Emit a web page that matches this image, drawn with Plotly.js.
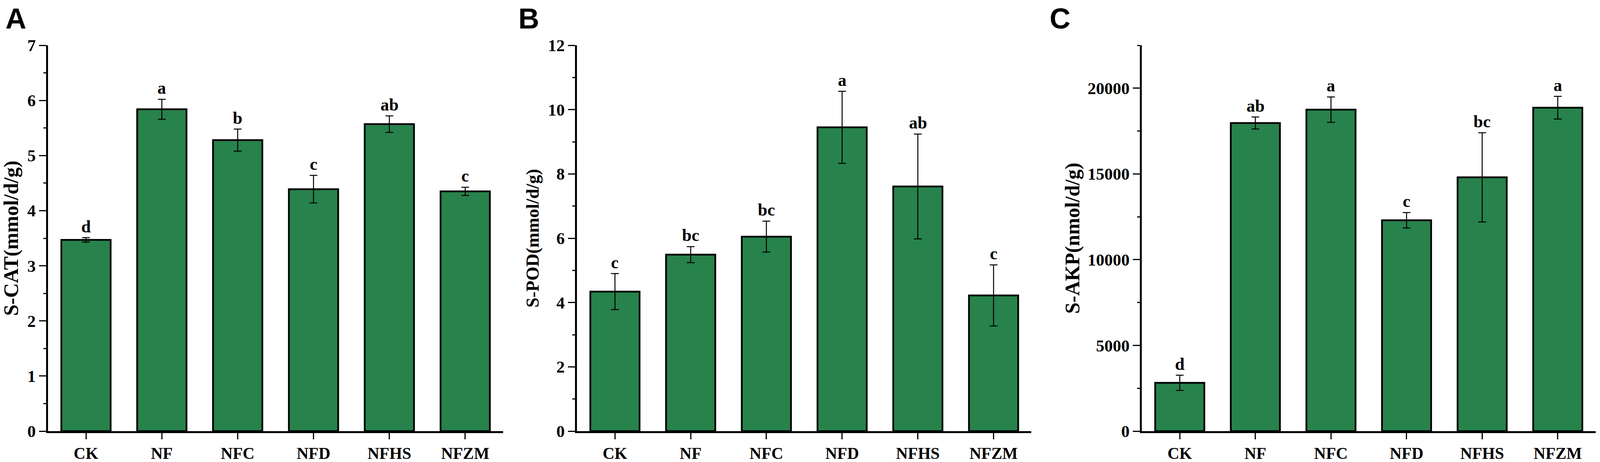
<!DOCTYPE html>
<html>
<head>
<meta charset="utf-8">
<script src="https://cdn.plot.ly/plotly-3.0.1.min.js"></script>
<style>html,body{margin:0;padding:0;background:#fff;overflow:hidden;}#chart{width:100vw;height:100vh;}</style>
</head>
<body>
<div id="chart"></div>
<script>
// ---------- data ----------
const categories = ['CK', 'NF', 'NFC', 'NFD', 'NFHS', 'NFZM'];

const catMean    = [3.47, 5.84, 5.28, 4.39, 5.57, 4.35];
const catErr     = [0.04, 0.18, 0.20, 0.25, 0.15, 0.075];
const catLetters = ['d', 'a', 'b', 'c', 'ab', 'c'];

const podMean    = [4.34, 5.49, 6.05, 9.45, 7.61, 4.22];
const podErr     = [0.56, 0.25, 0.48, 1.12, 1.63, 0.95];
const podLetters = ['c', 'bc', 'bc', 'a', 'ab', 'c'];

const akpMean    = [2820, 17970, 18750, 12300, 14800, 18860];
const akpErr     = [445, 350, 740, 450, 2600, 660];
const akpLetters = ['d', 'ab', 'a', 'c', 'bc', 'a'];

const panelLabels = ['A', 'B', 'C'];
const yTitles = ['S-CAT(mmol/d/g)', 'S-POD(mmol/d/g)', 'S-AKP(nmol/d/g)'];

// ---------- style ----------
// positions are measured on a 4328 x 1183 reference and expressed as fractions,
// so the figure fits whatever viewport the page is opened in.
const REF_W = 4328, REF_H = 1183;
const W = window.innerWidth || REF_W;
const H = window.innerHeight || REF_H;
const GREEN = '#27824B';
const SERIF = 'Liberation Serif, Times New Roman, serif';
const SANS = 'Liberation Sans, Arial, sans-serif';
const px = v => v / REF_W;
const py = v => 1 - v / REF_H;

const panels = [
  {mean: catMean, err: catErr, letters: catLetters, x0: 130, x1: 1361, range: [0, 7], dtick: 1, minor: 0.5, label: 43, titleSize: 52, standoff: 14},
  {mean: podMean, err: podErr, letters: podLetters, x0: 1561, x1: 2790, range: [0, 12], dtick: 2, minor: 1, label: 1430, titleSize: 46, standoff: 10},
  {mean: akpMean, err: akpErr, letters: akpLetters, x0: 3089, x1: 4316, range: [0, 22500], dtick: 5000, minor: 2500, label: 2867, titleSize: 52, standoff: 6}
];

const yTop = 116, yBot = 1104;
const traces = [];
const layout = {
  width: W, height: H,
  margin: {l: 0, r: 0, t: 0, b: 0},
  paper_bgcolor: '#fff', plot_bgcolor: '#fff',
  showlegend: false,
  bargap: 0.35,
  annotations: []
};

panels.forEach((p, i) => {
  const n = i === 0 ? '' : String(i + 1);
  traces.push({
    type: 'bar',
    x: categories,
    y: p.mean,
    xaxis: 'x' + n, yaxis: 'y' + n,
    marker: {color: GREEN, line: {color: '#000', width: 4.5}},
    error_y: {type: 'data', array: p.err, visible: true, color: '#000', thickness: 2.5, width: 10},
    hoverinfo: 'x+y'
  });
  layout['xaxis' + n] = {
    domain: [px(p.x0), px(p.x1)],
    anchor: 'y' + n,
    type: 'category',
    categoryarray: categories,
    range: [-0.5, categories.length - 0.5],
    showline: true, linecolor: '#000', linewidth: 5,
    ticks: 'outside', ticklen: 16, tickwidth: 3, tickcolor: '#000',
    minor: {ticks: 'outside', ticklen: 7, tickwidth: 3, tickcolor: '#000', tick0: -0.5, dtick: 1, showgrid: false},
    showgrid: false, zeroline: false,
    ticklabelstandoff: 0,
    tickfont: {family: SERIF, size: 42, color: '#000', weight: 'bold'},
    fixedrange: true
  };
  layout['yaxis' + n] = {
    domain: [py(yBot), py(yTop)],
    anchor: 'x' + n,
    range: p.range,
    dtick: p.dtick, tick0: 0,
    tickformat: 'd',
    showline: true, linecolor: '#000', linewidth: 5,
    ticks: 'outside', ticklen: 18, tickwidth: 3, tickcolor: '#000',
    minor: {ticks: 'outside', ticklen: 7, tickwidth: 3, tickcolor: '#000', dtick: p.minor, showgrid: false},
    showgrid: false, zeroline: false,
    tickfont: {family: SERIF, size: 43, color: '#000', weight: 'bold'},
    title: {text: yTitles[i], standoff: p.standoff, font: {family: SERIF, size: p.titleSize, color: '#000', weight: 'bold'}},
    fixedrange: true
  };
  categories.forEach((c, k) => {
    layout.annotations.push({
      xref: 'x' + n, yref: 'y' + n,
      x: c, y: p.mean[k] + p.err[k],
      text: p.letters[k],
      showarrow: false, yanchor: 'bottom', yshift: 2,
      font: {family: SERIF, size: 44, color: '#000', weight: 'bold'}
    });
  });
  layout.annotations.push({
    xref: 'paper', yref: 'paper',
    x: px(p.label), y: py(47),
    xanchor: 'center', yanchor: 'middle',
    text: panelLabels[i], showarrow: false,
    font: {family: SANS, size: 74, color: '#000', weight: 'bold'}
  });
});

Plotly.newPlot('chart', traces, layout, {staticPlot: true, displayModeBar: false});
</script>
</body>
</html>
